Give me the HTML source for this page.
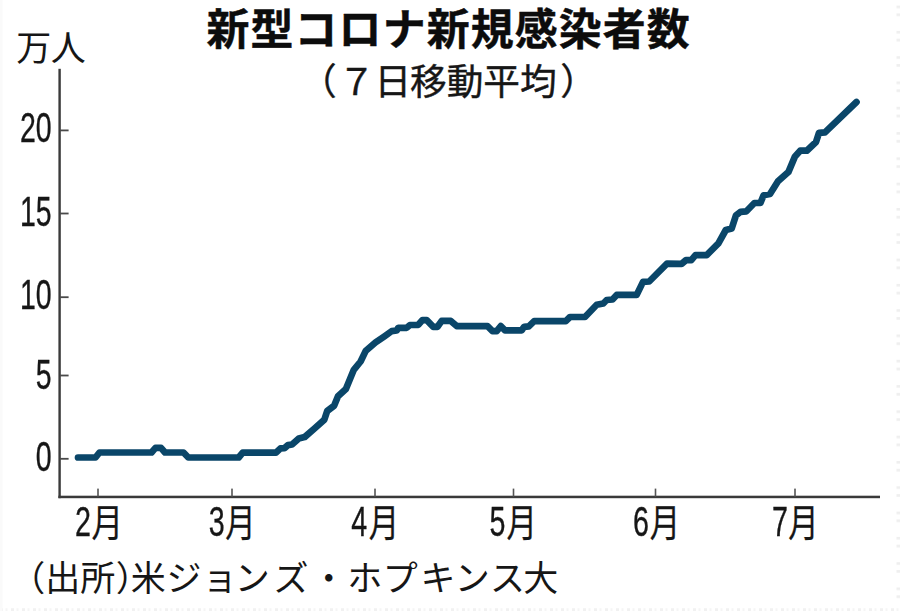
<!DOCTYPE html>
<html lang="ja">
<head>
<meta charset="utf-8">
<title>新型コロナ新規感染者数（７日移動平均）</title>
<style>
html,body{margin:0;padding:0;background:#fff;}
body{width:900px;height:611px;overflow:hidden;font-family:"Liberation Sans",sans-serif;}
svg{display:block;}
</style>
</head>
<body>
<svg width="900" height="611" viewBox="0 0 900 611" role="img" aria-label="新型コロナ新規感染者数（７日移動平均）">
<rect width="900" height="611" fill="#ffffff"/>
<defs><pattern id="pr" x="896.5" y="5.6" width="3.5" height="25.3" patternUnits="userSpaceOnUse"><rect width="3.5" height="2.6" fill="#efefef"/><rect y="7.9" width="3.5" height="2.6" fill="#efefef"/></pattern><pattern id="pb" x="0" y="608.2" width="11" height="3" patternUnits="userSpaceOnUse"><rect width="3" height="3" fill="#f1f1f1"/><rect x="5.5" width="2" height="3" fill="#f5f5f5"/></pattern></defs><rect x="896.5" y="0" width="3.5" height="611" fill="url(#pr)"/><rect x="0" y="608.2" width="900" height="2.8" fill="url(#pb)"/><rect x="0" y="0" width="2.5" height="611" fill="#fafafa"/>
<g font-family="'Liberation Sans', 'Noto Sans CJK JP', sans-serif" font-size="42.9" font-weight="bold" fill="#0c0c0c" stroke="#0c0c0c" stroke-width="0.45" stroke-linejoin="round"><text x="206.55 250.57 294.59 338.61 382.63 426.65 470.67 514.69 558.71 602.73 646.75" y="44.9">新型コロナ新規感染者数</text></g>
<g font-family="'Liberation Sans', 'Noto Sans CJK JP', sans-serif" font-size="36.7" fill="#161616" stroke="#161616" stroke-width="0.4"><text x="299.95 338.32 374.49 409.96 446.63 483.30 519.97 560.24" y="95.3">（７日移動平均）</text></g>
<g font-family="'Liberation Sans', 'Noto Sans CJK JP', sans-serif" font-size="35" fill="#161616"><text x="16.27 50.69" y="61.3">万人</text></g>
<rect x="58.4" y="68.8" width="2.4" height="429.4" fill="#3a3a3a"/><rect x="58.4" y="495.7" width="821.6" height="2.5" fill="#3a3a3a"/><rect x="60" y="129.5" width="8.6" height="1.8" fill="#4a4a4a"/><rect x="60" y="212.6" width="8.6" height="1.8" fill="#4a4a4a"/><rect x="60" y="296.3" width="8.6" height="1.8" fill="#4a4a4a"/><rect x="60" y="374.6" width="8.6" height="1.8" fill="#4a4a4a"/><rect x="60" y="457.9" width="8.6" height="1.8" fill="#4a4a4a"/><rect x="97.2" y="488.6" width="1.6" height="8" fill="#555"/><rect x="231.2" y="488.6" width="1.6" height="8" fill="#555"/><rect x="374.2" y="488.6" width="1.6" height="8" fill="#555"/><rect x="512.7" y="488.6" width="1.6" height="8" fill="#555"/><rect x="654.7" y="488.6" width="1.6" height="8" fill="#555"/><rect x="794.2" y="488.6" width="1.6" height="8" fill="#555"/>
<g font-family="'Liberation Sans', sans-serif" font-size="42.0" fill="#161616" stroke="#161616" stroke-width="0.35" style="filter:grayscale(1)"><text transform="translate(51.6 142.3) scale(0.678 1)" text-anchor="end">20</text><text transform="translate(51.6 226.2) scale(0.678 1)" text-anchor="end">15</text><text transform="translate(51.6 308.6) scale(0.678 1)" text-anchor="end">10</text><text transform="translate(51.6 388.7) scale(0.678 1)" text-anchor="end">5</text><text transform="translate(51.6 471.0) scale(0.678 1)" text-anchor="end">0</text></g>
<g font-family="'Liberation Sans', sans-serif" font-size="41.6" fill="#161616" stroke="#161616" stroke-width="0.35" style="filter:grayscale(1)"><text transform="translate(74.9 535.8) scale(0.69 1)">2</text><text transform="translate(208.8 535.8) scale(0.69 1)">3</text><text transform="translate(351.2 535.8) scale(0.69 1)">4</text><text transform="translate(489.6 535.8) scale(0.69 1)">5</text><text transform="translate(633.0 535.8) scale(0.69 1)">6</text><text transform="translate(772.1 535.8) scale(0.69 1)">7</text></g>
<g font-family="'Liberation Sans', 'Noto Sans CJK JP', sans-serif" font-size="38" fill="#161616" stroke="#161616" stroke-width="0.25"><text transform="translate(91.46 535.75) scale(0.832 1)">月</text><text transform="translate(225.28 535.75) scale(0.8 1)">月</text><text transform="translate(368.68 535.75) scale(0.8 1)">月</text><text transform="translate(506.38 535.75) scale(0.8 1)">月</text><text transform="translate(649.68 535.75) scale(0.8 1)">月</text><text transform="translate(788.18 535.75) scale(0.8 1)">月</text></g>
<g font-family="'Liberation Sans', 'Noto Sans CJK JP', sans-serif" font-size="35" fill="#161616"><text x="10.27 45.19 80.23 115.83 130.75 166.60 202.19 234.73 273.44 311.30 347.31 382.71 420.43 454.73 490.05 523.25" y="590.6">（出所）米ジョンズ・ホプキンス大</text></g>
<path d="M78 457.5 L95.5 457.5 L99.5 452.5 L151.5 452.5 L155.5 447.8 L161 447.8 L165 452.5 L183.5 452.5 L188.3 457.5 L238.7 457.5 L242.7 452.7 L276 452.7 L280.5 448.3 L284.5 448.1 L288 445.1 L292 444.5 L296 441 L298.8 438.5 L304.6 437.1 L314.5 428.5 L324.3 419.7 L327.2 411 L334.1 405.8 L338 396.3 L345.9 389.1 L349.8 379.6 L353.8 369.8 L360.6 361.5 L365.6 351.1 L375.4 342.5 L385 335.9 L391.7 331.1 L396.7 330.5 L398.3 327.8 L406.7 327.8 L410 325 L418.3 324.8 L422.5 320.1 L426.7 320.1 L433.3 326.8 L437.5 326.8 L441.7 320.9 L450.8 320.9 L456.7 326.1 L487.5 326.1 L492.5 331.1 L496.7 331.1 L500.8 326.1 L505 330.3 L521.7 330.3 L524.2 326.8 L528.8 326.3 L534.2 321.1 L565.8 321.1 L570 317 L585 317 L596.7 304.7 L603.3 303.5 L606.7 300 L612.5 299.5 L616.7 294.9 L636.7 294.9 L643 281.9 L649.2 281.5 L667 263.7 L681.6 263.9 L686 260.1 L691.3 260.1 L695.5 255.1 L706.7 255.1 L718.4 243.3 L725.8 230 L731.7 228.5 L736 215.3 L740.5 211.8 L746.4 211.3 L754.4 203 L760.4 203 L763.6 195.2 L770 194 L778 181.3 L788.4 172.1 L795 156.4 L800.2 150.7 L806.8 150.7 L816 142 L819 132.9 L825 132.3 L856.5 102" fill="none" stroke="#0a4669" stroke-width="6.7" stroke-linecap="round" stroke-linejoin="round"/>
</svg>
</body>
</html>
